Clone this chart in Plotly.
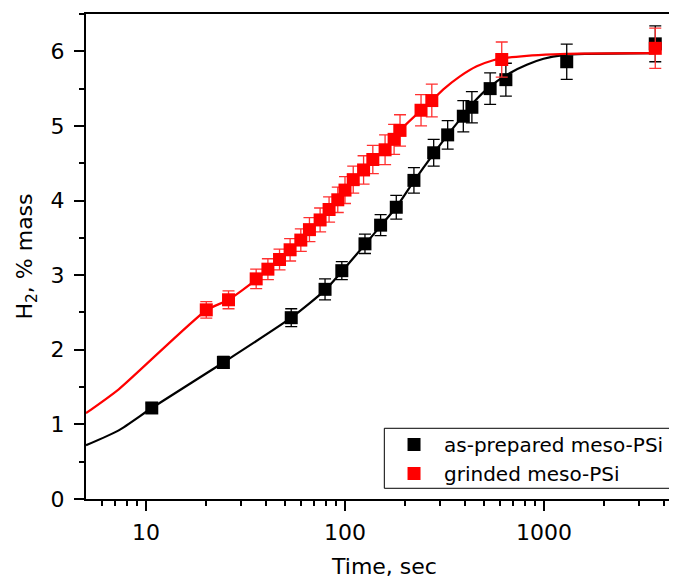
import plotly.graph_objects as go

# ---- data ----
black_t = [10.7, 24.5, 53.7, 79.4, 96.4, 126, 151, 181, 222, 279, 328, 393, 434, 536, 643, 1300, 3620]
black_h = [1.22, 1.83, 2.43, 2.81, 3.06, 3.42, 3.67, 3.91, 4.27, 4.64, 4.88, 5.13, 5.25, 5.50, 5.62, 5.86, 6.10]
black_err = [0.06, 0.08, 0.12, 0.14, 0.12, 0.13, 0.14, 0.16, 0.17, 0.18, 0.19, 0.21, 0.21, 0.21, 0.22, 0.235, 0.24]

red_t = [20.1, 26.0, 35.8, 41.0, 46.9, 53.0, 60.0, 66.3, 75.0, 83.2, 92.0, 100, 110, 124, 138, 159, 176.5, 189, 241, 273, 613, 3620]
red_h = [2.535, 2.67, 2.95, 3.08, 3.21, 3.34, 3.47, 3.61, 3.74, 3.88, 4.01, 4.14, 4.28, 4.41, 4.55, 4.68, 4.82, 4.94, 5.21, 5.34, 5.89, 6.04]
red_err = [0.11, 0.12, 0.13, 0.14, 0.14, 0.15, 0.15, 0.16, 0.16, 0.17, 0.17, 0.18, 0.18, 0.19, 0.19, 0.20, 0.20, 0.21, 0.21, 0.22, 0.235, 0.27]

black_fit_t = [5, 7.3, 10.7, 24.5, 53.7, 79.4, 96.4, 126, 151, 181, 222, 279, 328, 393, 441, 536, 675, 819, 994, 1250, 1600, 3620]
black_fit_h = [0.72, 0.92, 1.22, 1.83, 2.43, 2.80, 3.05, 3.41, 3.66, 3.91, 4.26, 4.63, 4.88, 5.14, 5.31, 5.53, 5.71, 5.82, 5.90, 5.95, 5.965, 5.975]

red_fit_t = [5, 7.3, 20.1, 26, 35.8, 41, 46.9, 53, 60, 66.3, 75, 83.2, 92, 100, 110, 124, 138, 159, 176.5, 189, 241, 273, 312, 378, 459, 556, 613, 819, 1114, 1500, 3620]
red_fit_h = [1.15, 1.47, 2.53, 2.67, 2.94, 3.08, 3.21, 3.34, 3.47, 3.61, 3.74, 3.88, 4.01, 4.14, 4.28, 4.41, 4.55, 4.68, 4.82, 4.94, 5.21, 5.34, 5.49, 5.665, 5.80, 5.88, 5.905, 5.94, 5.96, 5.97, 5.975]

x_tickvals = [10, 100, 1000]
x_ticktext = ["10", "100", "1000"]
x_minor = [6, 7, 8, 9, 20, 30, 40, 50, 60, 70, 80, 90, 200, 300, 400, 500, 600, 700, 800, 900, 2000, 3000, 4000]
y_tickvals = [0, 1, 2, 3, 4, 5, 6]

FONT = "DejaVu Sans"

fig = go.Figure()

fig.add_trace(go.Scatter(x=black_fit_t, y=black_fit_h, mode="lines", line_shape="spline",
                         line=dict(color="black", width=2.2, smoothing=0.6), showlegend=False, hoverinfo="skip"))
fig.add_trace(go.Scatter(x=red_fit_t, y=red_fit_h, mode="lines", line_shape="spline",
                         line=dict(color="#ff0000", width=2.2, smoothing=0.6), showlegend=False, hoverinfo="skip"))

fig.add_trace(go.Scatter(x=black_t, y=black_h, mode="markers", name="as-prepared meso-PSi",
                         marker=dict(symbol="square", size=13, color="black"),
                         error_y=dict(type="data", array=black_err, visible=True,
                                      color="black", thickness=1.3, width=6)))
fig.add_trace(go.Scatter(x=red_t, y=red_h, mode="markers", name="grinded meso-PSi",
                         marker=dict(symbol="square", size=13, color="#ff0000"),
                         error_y=dict(type="data", array=red_err, visible=True,
                                      color="#ff3030", thickness=1.3, width=6)))

fig.update_layout(
    width=677, height=583,
    margin=dict(l=78, r=2, t=6, b=92, pad=0),
    paper_bgcolor="white", plot_bgcolor="white",
    font=dict(family=FONT, size=22, color="black"),
    legend=dict(x=0.4992, y=0.1526, xanchor="left", yanchor="top",
                bgcolor="rgba(0,0,0,0)", borderwidth=0,
                font=dict(family=FONT, size=20), tracegroupgap=0, itemwidth=50),
    shapes=[dict(type="rect", xref="paper", yref="paper",
                 x0=0.4997, x1=0.9827, y0=0.0221, y1=0.1458,
                 line=dict(color="black", width=1), fillcolor="white", layer="below")],
)

fig.update_xaxes(
    type="log", range=[0.699, 3.698],
    showline=True, linewidth=2, linecolor="black", mirror=True,
    showgrid=False, zeroline=False,
    ticks="outside", ticklen=10, tickwidth=2, tickcolor="black",
    tickvals=x_tickvals, ticktext=x_ticktext, tickfont=dict(size=22), ticklabelstandoff=3,
    minor=dict(tickvals=x_minor, ticks="outside", ticklen=5, tickwidth=2, tickcolor="black", showgrid=False),
    title=dict(text="Time, sec", font=dict(family=FONT, size=22), standoff=14),
)

fig.update_yaxes(
    range=[0, 6.5],
    showline=True, linewidth=2, linecolor="black", mirror=False,
    showgrid=False, zeroline=False,
    ticks="outside", ticklen=10, tickwidth=2, tickcolor="black",
    tickvals=y_tickvals, tickfont=dict(size=22), ticklabelstandoff=5,
    minor=dict(dtick=0.5, ticks="outside", ticklen=5, tickwidth=2, tickcolor="black", showgrid=False),
    title=dict(text="H<sub>2</sub>, % mass", font=dict(family=FONT, size=22), standoff=12),
)

fig.write_html("out.html")
